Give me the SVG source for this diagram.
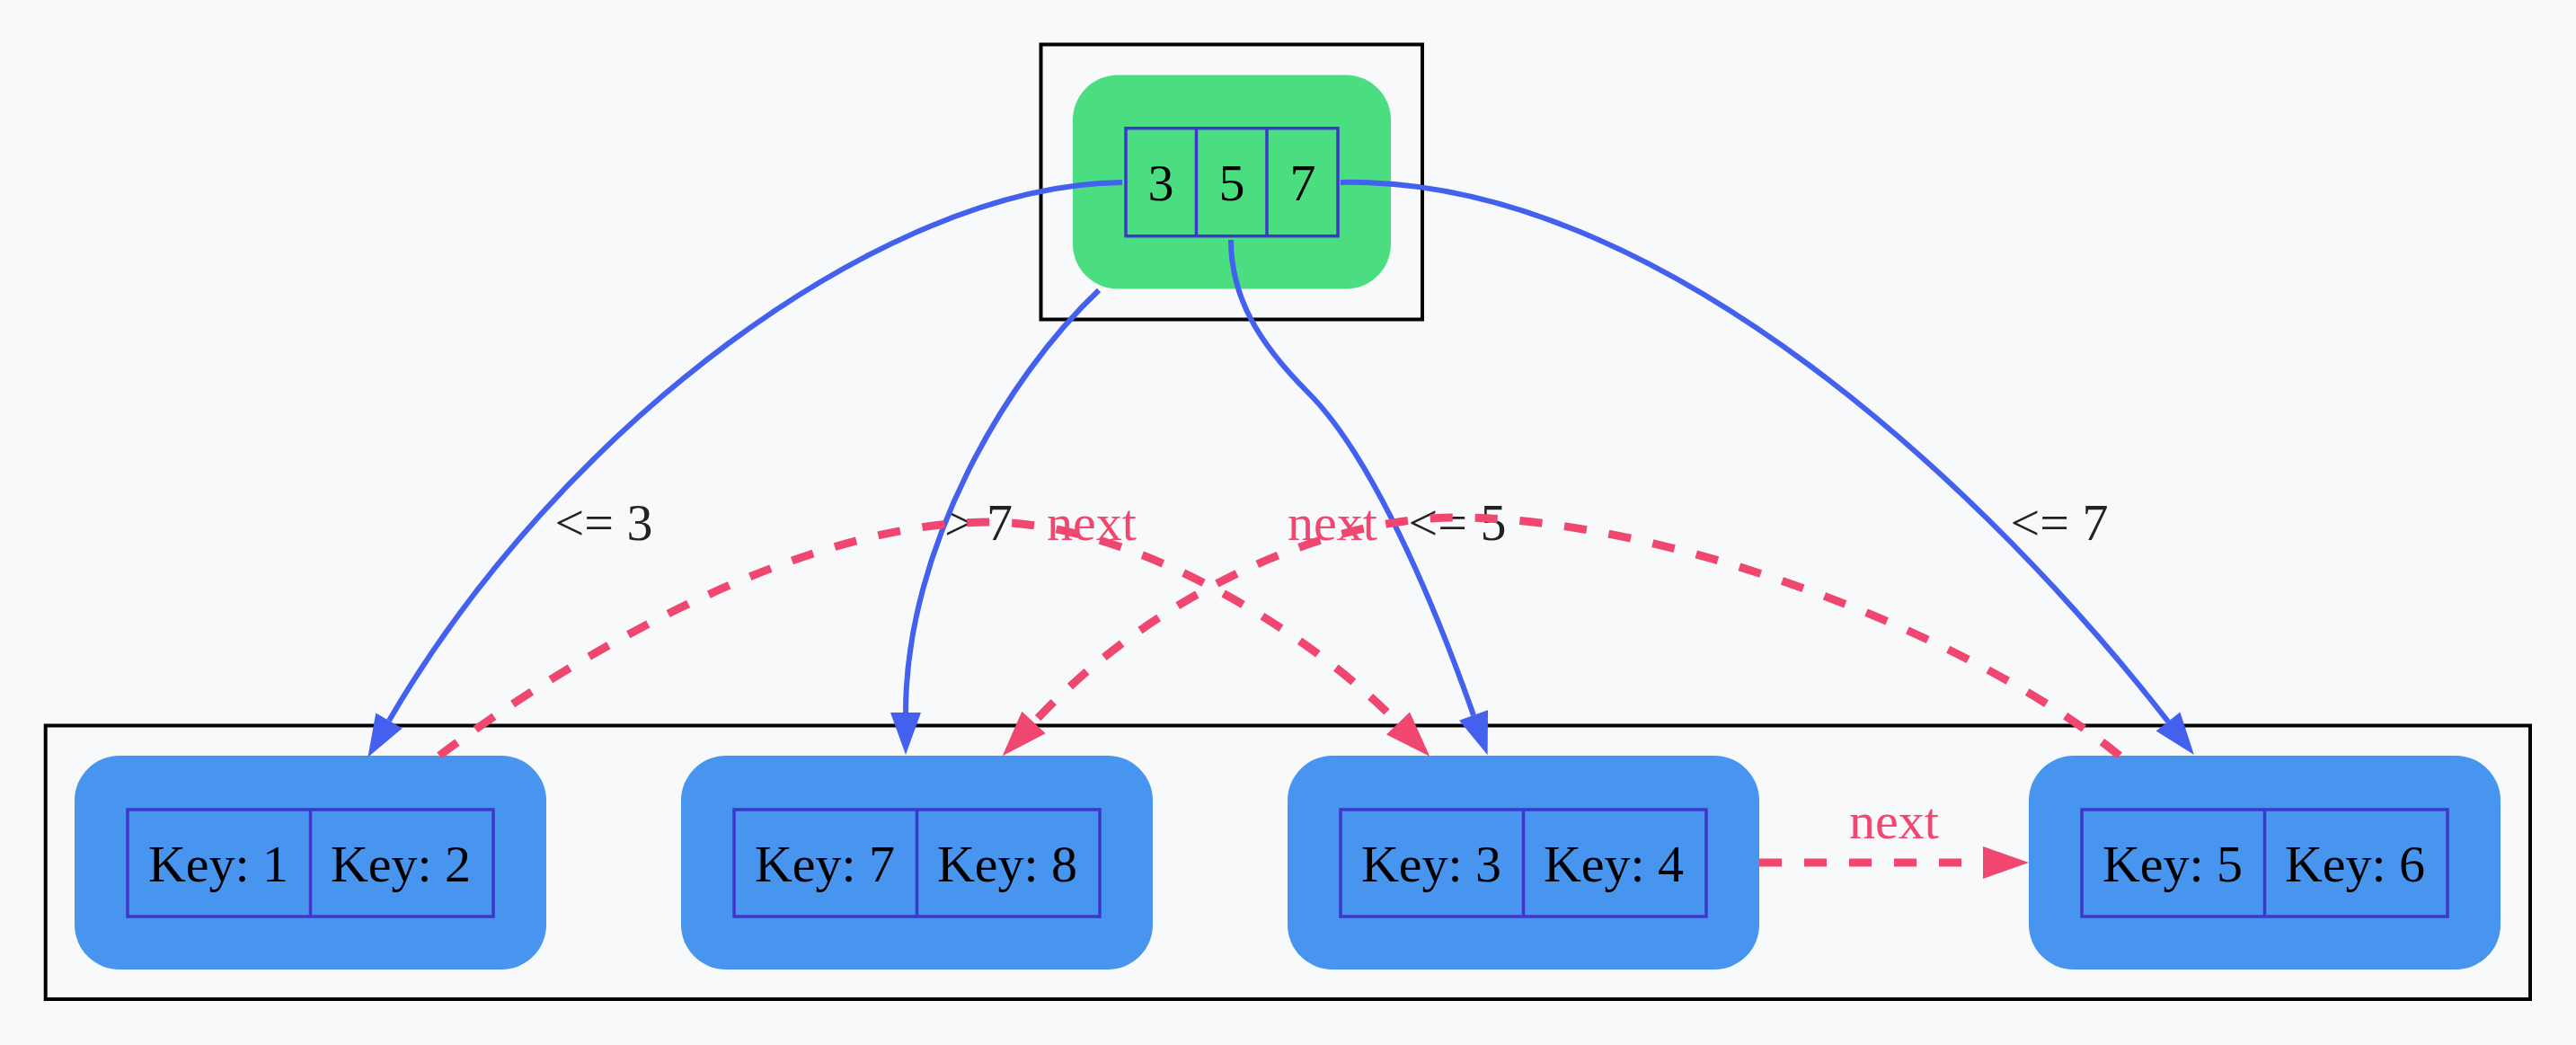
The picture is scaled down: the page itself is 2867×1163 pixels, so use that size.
<svg xmlns="http://www.w3.org/2000/svg" width="2867" height="1163" viewBox="0 0 2867 1163">
<defs>
<style>
.bg{fill:#f8f9fa}
.cluster{fill:none;stroke:#000;stroke-width:4}
.inner{fill:#4ade80}
.leaf{fill:#4895ef}
.tbl{fill:none;stroke:#3f37c9;stroke-width:3.5}
.t{font-family:"Liberation Serif","Times New Roman",serif;font-size:58px;text-anchor:middle;fill:#000}
.lbl{font-family:"Liberation Serif","Times New Roman",serif;font-size:58px;text-anchor:middle;fill:#222}
.nlbl{font-family:"Liberation Serif","Times New Roman",serif;font-size:58px;text-anchor:middle;fill:#ef476f}
.ptr{fill:none;stroke:#4361ee;stroke-width:6;marker-end:url(#ab)}
.nxt{fill:none;stroke:#ef476f;stroke-width:9;stroke-dasharray:25 25;marker-end:url(#ar)}
</style>
<marker id="ab" markerUnits="userSpaceOnUse" orient="auto" markerWidth="60" markerHeight="40" viewBox="0 -20 60 40" refX="0" refY="0" overflow="visible">
<path d="M0,-17 L47,0 L0,17 Z" fill="#4361ee"/>
</marker>
<marker id="ar" markerUnits="userSpaceOnUse" orient="auto" markerWidth="60" markerHeight="40" viewBox="0 -20 60 40" refX="0" refY="0" overflow="visible">
<path d="M0,-18 L51,0 L0,18 Z" fill="#ef476f"/>
</marker>
</defs>
<rect class="bg" x="0" y="0" width="2867" height="1163"/>
<g id="cluster-internal">
<rect class="cluster" x="1158.5" y="49.5" width="424.5" height="306"/>
</g>
<g id="cluster-leaves">
<rect class="cluster" x="50.7" y="807.5" width="2765.3" height="304.5"/>
</g>
<g id="root">
<rect class="inner" x="1194" y="83.5" width="354" height="238" rx="50" ry="50"/>
<rect class="tbl" x="1253" y="142.7" width="236" height="120"/>
<line class="tbl" x1="1331.5" y1="142.7" x2="1331.5" y2="262.7"/>
<line class="tbl" x1="1410" y1="142.7" x2="1410" y2="262.7"/>
<text class="t" x="1292" y="223">3</text>
<text class="t" x="1371" y="223">5</text>
<text class="t" x="1450" y="223">7</text>
</g>
<g id="leaf1">
<rect class="leaf" x="83" y="841" width="525" height="238" rx="50" ry="50"/>
<rect class="tbl" x="142" y="901" width="407" height="119"/>
<line class="tbl" x1="345.5" y1="901" x2="345.5" y2="1020"/>
<text class="t" x="243" y="981">Key: 1</text>
<text class="t" x="446" y="981">Key: 2</text>
</g>
<g id="leaf2">
<rect class="leaf" x="758" y="841" width="525" height="238" rx="50" ry="50"/>
<rect class="tbl" x="817" y="901" width="407" height="119"/>
<line class="tbl" x1="1020.5" y1="901" x2="1020.5" y2="1020"/>
<text class="t" x="918" y="981">Key: 7</text>
<text class="t" x="1121" y="981">Key: 8</text>
</g>
<g id="leaf3">
<rect class="leaf" x="1433" y="841" width="525" height="238" rx="50" ry="50"/>
<rect class="tbl" x="1492" y="901" width="407" height="119"/>
<line class="tbl" x1="1695.5" y1="901" x2="1695.5" y2="1020"/>
<text class="t" x="1593" y="981">Key: 3</text>
<text class="t" x="1796" y="981">Key: 4</text>
</g>
<g id="leaf4">
<rect class="leaf" x="2258" y="841" width="525" height="238" rx="50" ry="50"/>
<rect class="tbl" x="2317" y="901" width="407" height="119"/>
<line class="tbl" x1="2520.5" y1="901" x2="2520.5" y2="1020"/>
<text class="t" x="2418" y="981">Key: 5</text>
<text class="t" x="2621" y="981">Key: 6</text>
</g>
<g id="connectors">
<text class="lbl" x="672" y="601">&lt;= 3</text>
<path class="ptr" d="M1249,203 C980,205 620,480 433,802"/>
<text class="lbl" x="1089" y="601">&gt; 7</text>
<path class="ptr" d="M1223,323 C1120,420 1008,610 1008,793"/>
<text class="lbl" x="1622" y="601">&lt;= 5</text>
<path class="ptr" d="M1370,267 C1370,330 1400,381 1456,437 C1526,507 1593.5,664 1640,796"/>
<text class="lbl" x="2292" y="601">&lt;= 7</text>
<path class="ptr" d="M1492,203 C1850,195 2220,555 2413,803"/>
<text class="nlbl" x="1215" y="601">next</text>
<path class="nxt" d="M489,841 C650,720 900,581 1100,581 C1270,581 1470,715 1556,805"/>
<text class="nlbl" x="1483" y="601">next</text>
<path class="nxt" d="M2359,841 C2200,710 1860,576 1620,576 C1470,576 1280,665 1150.5,804"/>
<text class="nlbl" x="2108" y="933">next</text>
<path class="nxt" d="M1958,960 L2207,960"/>
</g>
</svg>
